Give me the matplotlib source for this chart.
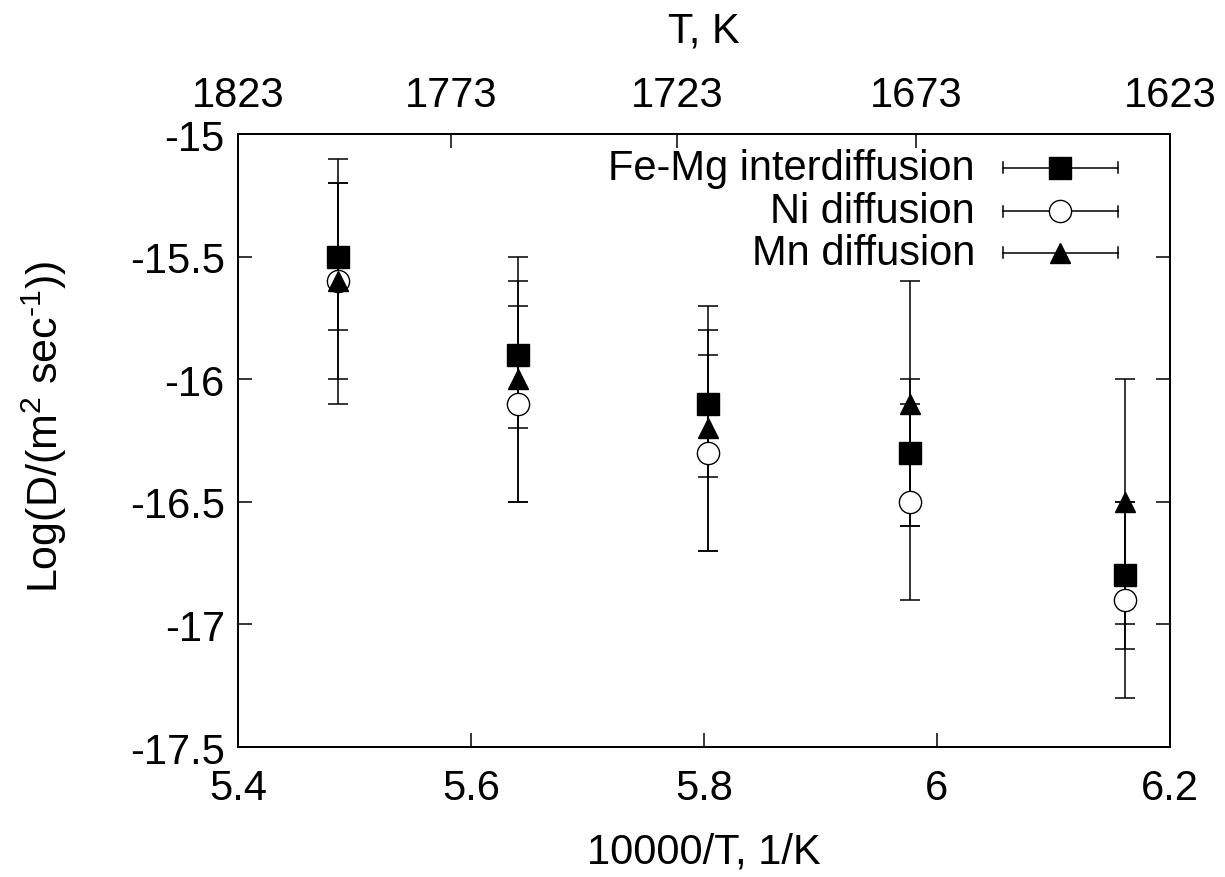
import matplotlib
matplotlib.use("Agg")
import matplotlib.pyplot as plt
import numpy as np

plt.rcParams['font.family'] = ['Liberation Sans', 'DejaVu Sans']
plt.rcParams['mathtext.fontset'] = 'custom'
plt.rcParams['mathtext.rm'] = 'Liberation Sans'
plt.rcParams['mathtext.it'] = 'Liberation Sans:italic'
plt.rcParams['mathtext.bf'] = 'Liberation Sans:bold'

# Data
temps_K = [1823, 1773, 1723, 1673, 1623]
femg_logD = [-15.5, -15.9, -16.1, -16.3, -16.8]
femg_err = [0.3, 0.3, 0.3, 0.3, 0.3]
ni_logD = [-15.6, -16.1, -16.3, -16.5, -16.9]
ni_err = [0.4, 0.4, 0.4, 0.4, 0.4]
mn_logD = [-15.6, -16.0, -16.2, -16.1, -16.5]
mn_err = [0.5, 0.5, 0.5, 0.5, 0.5]
series_names = ["Fe-Mg interdiffusion", "Ni diffusion", "Mn diffusion"]
x_ticks = [5.4, 5.6, 5.8, 6.0, 6.2]
x_ticklabels = ["5.4", "5.6", "5.8", "6", "6.2"]
y_ticks = [-15, -15.5, -16, -16.5, -17, -17.5]
y_ticklabels = ["-15", "-15.5", "-16", "-16.5", "-17", "-17.5"]

xs = 10000.0 / np.array(temps_K)

fig = plt.figure(figsize=(12.25, 8.78), dpi=100)
ax = fig.add_axes([0.1943, 0.148, 0.7607, 0.6982])

FS = 30
lw_err = 1.1
cap = 7.5

def draw(y, e, marker, mfc, ms, z):
    ax.errorbar(xs, y, yerr=e, fmt='none', ecolor='black', elinewidth=lw_err,
                capsize=cap, capthick=lw_err, zorder=2)
    ax.plot(xs, y, linestyle='none', marker=marker, markersize=ms,
            markerfacecolor=mfc, markeredgecolor='black', markeredgewidth=1.0,
            zorder=z)

draw(ni_logD, ni_err, 'o', 'white', 16, 3)
draw(femg_logD, femg_err, 's', 'black', 15.5, 4)
draw(mn_logD, mn_err, '^', 'black', 15, 5)

ax.set_xlim(5.4, 6.2)
ax.set_ylim(-17.5, -15)
ax.set_xticks(x_ticks)
ax.set_xticklabels(x_ticklabels)
ax.set_yticks(y_ticks)
ax.set_yticklabels(y_ticklabels)
ax.tick_params(direction='in', length=10, width=1.1, labelsize=FS,
               top=False, right=True)
ax.tick_params(axis='y', pad=9.5)
ax.tick_params(axis='x', pad=15)
for s in ax.spines.values():
    s.set_linewidth(1.3)

ax.set_xlabel("10000/T, 1/K", fontsize=FS, labelpad=17)
ax.set_ylabel("Log(D/(m$^{2}$ sec$^{\\text{-}1}$))", fontsize=31)
ax.yaxis.set_label_coords(-0.181, 0.525)

# Top axis in temperature
x_lo = 10000.0 / temps_K[0]
x_hi = 10000.0 / temps_K[-1]
top_pos = [5.4 + (10000.0 / T - x_lo) * 0.8 / (x_hi - x_lo) for T in temps_K]
ax2 = ax.twiny()
ax2.set_xlim(5.4, 6.2)
ax2.set_xticks(top_pos)
ax2.set_xticklabels([str(T) for T in temps_K])
ax2.tick_params(direction='in', length=10, width=1.1, labelsize=FS, pad=14)
ax2.set_xlabel("T, K", fontsize=FS, labelpad=24)
for s in ax2.spines.values():
    s.set_linewidth(1.3)

# Legend (gnuplot style)
leg_y = [0.945, 0.874, 0.806]
styles = [('s', 'black', 15.5), ('o', 'white', 16), ('^', 'black', 15)]
for name, yy, (m, fc, ms) in zip(series_names, leg_y, styles):
    ax.text(0.791, yy, name, transform=ax.transAxes, ha='right', va='center',
            fontsize=FS)
    ax.plot([0.821, 0.944], [yy, yy], transform=ax.transAxes, color='black',
            lw=lw_err, zorder=6)
    for xe in (0.821, 0.944):
        ax.plot([xe, xe], [yy - 0.009, yy + 0.009], transform=ax.transAxes,
                color='black', lw=lw_err, zorder=6)
    ax.plot([0.882], [yy], transform=ax.transAxes, marker=m, markersize=ms,
            markerfacecolor=fc, markeredgecolor='black', markeredgewidth=1.0,
            linestyle='none', zorder=7)

fig.savefig("out.png", dpi=100)
